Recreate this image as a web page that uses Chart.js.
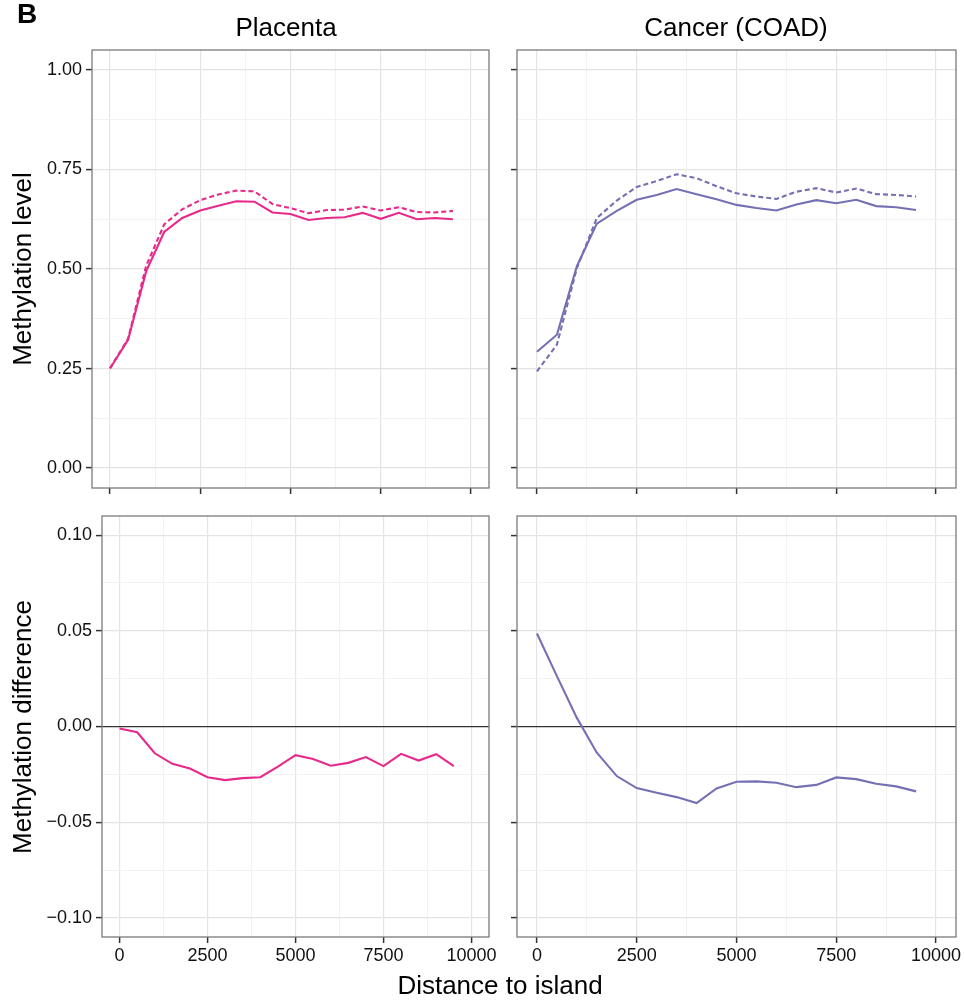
<!DOCTYPE html>
<html>
<head>
<meta charset="utf-8">
<script src="https://cdn.jsdelivr.net/npm/chart.js@4"></script>
<style>
  body { margin: 0; background: #fff; }
  #page { position: relative; width: 965px; height: 1001px; overflow: hidden;
          font-family: "Liberation Sans", Arial, Helvetica, sans-serif; color: #000; }
  #page canvas { position: absolute; left: 0; top: 0; }
  .txt { position: absolute; white-space: nowrap; line-height: 1; transform: translate(-50%, -50%); }
  .rot { transform: translate(-50%, -50%) rotate(-90deg); }
</style>
</head>
<body>
<div id="page">
  <canvas id="tl" width="965" height="1001"></canvas>
  <canvas id="tr" width="965" height="1001"></canvas>
  <canvas id="bl" width="965" height="1001"></canvas>
  <canvas id="br" width="965" height="1001"></canvas>
  <div class="txt" style="left:27px;top:14px;font-size:28px;font-weight:bold">B</div>
  <div class="txt" style="left:286px;top:27px;font-size:26px">Placenta</div>
  <div class="txt" style="left:736px;top:27px;font-size:26px">Cancer (COAD)</div>
  <div class="txt rot" style="left:22px;top:269px;font-size:26px">Methylation level</div>
  <div class="txt rot" style="left:22px;top:727px;font-size:26px">Methylation difference</div>
  <div class="txt" style="left:500px;top:985px;font-size:26px">Distance to island</div>
</div>
<script>
// distance to island (bp)
const distance = [0, 500, 1000, 1500, 2000, 2500, 3000, 3500, 4000, 4500,
                  5000, 5500, 6000, 6500, 7000, 7500, 8000, 8500, 9000, 9500];

const placentaSolid  = [0.250, 0.322, 0.494, 0.593, 0.628, 0.647, 0.659, 0.670, 0.669, 0.642,
                        0.638, 0.623, 0.628, 0.630, 0.641, 0.626, 0.641, 0.625, 0.628, 0.625];
const placentaDashed = [0.251, 0.325, 0.508, 0.612, 0.650, 0.673, 0.687, 0.697, 0.695, 0.663,
                        0.653, 0.640, 0.648, 0.649, 0.657, 0.647, 0.655, 0.643, 0.642, 0.646];
const placentaDiff   = [-0.001, -0.003, -0.014, -0.0195, -0.022, -0.0265, -0.028, -0.027, -0.0265, -0.021,
                        -0.015, -0.017, -0.0205, -0.019, -0.016, -0.0207, -0.0143, -0.0178, -0.0145, -0.0207];

const coadSolid  = [0.292, 0.335, 0.507, 0.614, 0.646, 0.674, 0.686, 0.701, 0.688, 0.675,
                    0.661, 0.653, 0.647, 0.662, 0.673, 0.665, 0.674, 0.658, 0.655, 0.648];
const coadDashed = [0.243, 0.310, 0.502, 0.628, 0.672, 0.706, 0.721, 0.738, 0.728, 0.708,
                    0.690, 0.682, 0.676, 0.694, 0.703, 0.692, 0.702, 0.688, 0.686, 0.682];
const coadDiff   = [0.0486, 0.0263, 0.0045, -0.0137, -0.0259, -0.0322, -0.0346, -0.0369, -0.040, -0.0324,
                    -0.0289, -0.0287, -0.0294, -0.0317, -0.0305, -0.0266, -0.0275, -0.0299, -0.0313, -0.0339];

const xTicks = [0, 1250, 2500, 3750, 5000, 6250, 7500, 8750, 10000];
const levelTicks = [0, 0.125, 0.25, 0.375, 0.5, 0.625, 0.75, 0.875, 1];
const diffTicks = [-0.1, -0.075, -0.05, -0.025, 0, 0.025, 0.05, 0.075, 0.1];

const pink = '#E7298A';
const purple = '#7570B3';

const W = 965, H = 1001;
const majorGrid = '#e4e4e4', minorGrid = '#f2f2f2', tickCol = '#333333';

Chart.defaults.font.family = '"Liberation Sans", Arial, Helvetica, sans-serif';
Chart.defaults.font.size = 18;
Chart.defaults.color = '#111111';

const isMajor = (v, step) => Math.abs(v / step - Math.round(v / step)) < 1e-6;
const fmtY = v => (v < 0 ? '\u2212' : '') + Math.abs(v).toFixed(2);

const panelBorder = {
  id: 'panelBorder',
  afterDraw(chart) {
    const a = chart.chartArea, ctx = chart.ctx;
    ctx.save();
    ctx.strokeStyle = '#7a7a7a';
    ctx.lineWidth = 1.3;
    ctx.strokeRect(a.left, a.top, a.right - a.left, a.bottom - a.top);
    ctx.restore();
  }
};

function makePanel(id, box, series, yTicks, yMin, yMax, yStep, showX, showY, zeroLine) {
  new Chart(document.getElementById(id), {
    type: 'line',
    data: {
      datasets: series.map(s => ({
        data: distance.map((d, i) => ({ x: d, y: s.values[i] })),
        borderColor: s.color,
        borderWidth: 2.1,
        borderDash: s.dash || [],
        pointRadius: 0,
        tension: 0,
        fill: false
      }))
    },
    options: {
      responsive: false,
      animation: false,
      events: [],
      layout: { padding: { left: 0, top: box.top, right: W - box.right, bottom: 0 } },
      plugins: { legend: { display: false }, tooltip: { enabled: false } },
      scales: {
        x: {
          type: 'linear', min: -500, max: 10500,
          afterFit: s => { s.height = H - box.bottom; },
          afterBuildTicks: s => { s.ticks = xTicks.map(v => ({ value: v })); },
          border: { display: false },
          grid: {
            color: c => c.tick && isMajor(c.tick.value, 2500) ? majorGrid : minorGrid,
            lineWidth: c => c.tick && isMajor(c.tick.value, 2500) ? 1.2 : 1,
            tickLength: 6,
            tickWidth: 1.5,
            tickColor: c => c.tick && isMajor(c.tick.value, 2500) ? tickCol : 'rgba(0,0,0,0)'
          },
          ticks: {
            autoSkip: false, maxRotation: 0, padding: 2,
            callback: v => (showX && isMajor(v, 2500)) ? String(v) : ''
          }
        },
        y: {
          type: 'linear', min: yMin, max: yMax,
          afterFit: s => { s.width = box.left; },
          afterBuildTicks: s => { s.ticks = yTicks.map(v => ({ value: v })); },
          border: { display: false },
          grid: {
            color: c => {
              if (!c.tick) return majorGrid;
              if (zeroLine && Math.abs(c.tick.value) < 1e-9) return '#333333';
              return isMajor(c.tick.value, yStep) ? majorGrid : minorGrid;
            },
            lineWidth: c => c.tick && isMajor(c.tick.value, yStep) ? 1.2 : 1,
            tickLength: 6,
            tickWidth: 1.5,
            tickColor: c => c.tick && isMajor(c.tick.value, yStep) ? tickCol : 'rgba(0,0,0,0)'
          },
          ticks: {
            autoSkip: false, padding: 4,
            callback: v => (showY && isMajor(v, yStep)) ? fmtY(v) : ''
          }
        }
      }
    },
    plugins: [panelBorder]
  });
}

makePanel('tl', { left: 92, top: 50, right: 489, bottom: 488 },
  [{ values: placentaDashed, color: pink, dash: [5, 3] }, { values: placentaSolid, color: pink }],
  levelTicks, -0.05, 1.05, 0.25, false, true, false);

makePanel('tr', { left: 517, top: 50, right: 956, bottom: 488 },
  [{ values: coadDashed, color: purple, dash: [5, 3] }, { values: coadSolid, color: purple }],
  levelTicks, -0.05, 1.05, 0.25, false, false, false);

makePanel('bl', { left: 102, top: 516, right: 489, bottom: 937 },
  [{ values: placentaDiff, color: pink }],
  diffTicks, -0.11, 0.11, 0.05, true, true, true);

makePanel('br', { left: 517, top: 516, right: 956, bottom: 937 },
  [{ values: coadDiff, color: purple }],
  diffTicks, -0.11, 0.11, 0.05, true, false, true);
</script>
</body>
</html>
